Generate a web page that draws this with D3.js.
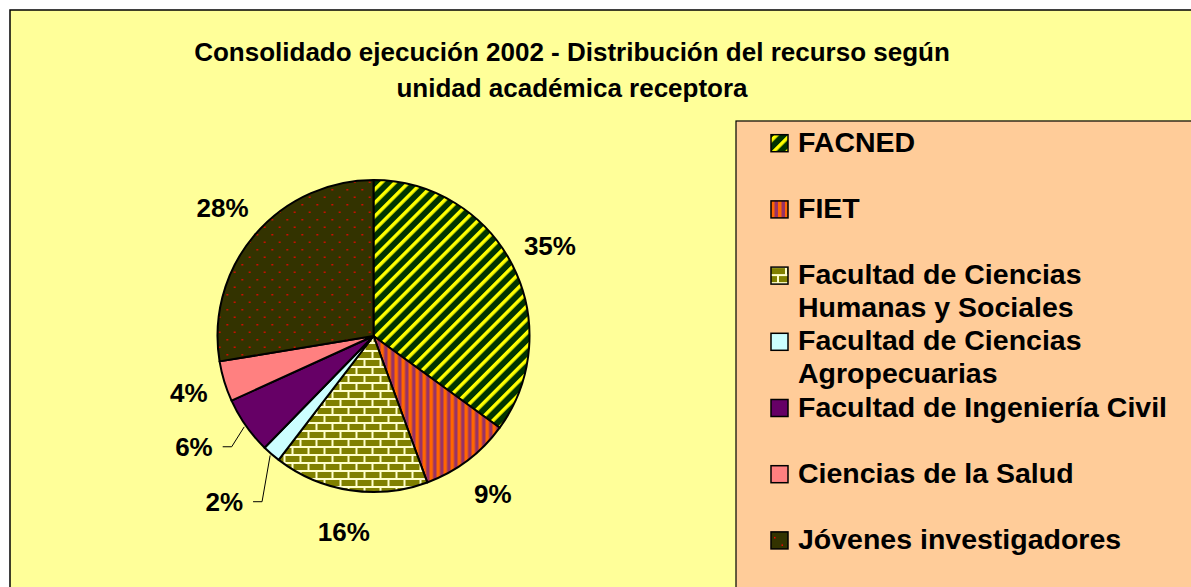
<!DOCTYPE html>
<html>
<head>
<meta charset="utf-8">
<script src="https://cdn.jsdelivr.net/npm/d3@7"></script>
<style>
  html, body { margin: 0; padding: 0; background: #fff; }
  svg { display: block; font-family: "Liberation Sans", Arial, sans-serif; font-weight: bold; }
</style>
</head>
<body>
<svg id="chart" width="1191" height="587"></svg>
<script>
// data
var categories = ["FACNED", "FIET", "Facultad de Ciencias Humanas y Sociales", "Facultad de Ciencias Agropecuarias",
  "Facultad de Ingeniería Civil", "Ciencias de la Salud", "Jóvenes investigadores"];
var legendLines = [["FACNED"], ["FIET"], ["Facultad de Ciencias", "Humanas y Sociales"],
  ["Facultad de Ciencias", "Agropecuarias"], ["Facultad de Ingeniería Civil"], ["Ciencias de la Salud"], ["Jóvenes investigadores"]];
var values = [35.0, 9.4, 16.0, 1.9, 5.9, 4.2, 27.6];
var titleLines = ["Consolidado ejecución 2002 - Distribución del recurso según", "unidad académica receptora"];

var W = 1191, H = 587;
var cx = 373.5, cy = 336, radius = 156;
var svg = d3.select("#chart");

// patterns
var defs = svg.append("defs");
var p0 = defs.append("pattern").attr("id", "pat0").attr("patternUnits", "userSpaceOnUse")
  .attr("width", 9.5).attr("height", 9.5).attr("patternTransform", "rotate(45)");
p0.append("rect").attr("width", 9.5).attr("height", 9.5).attr("fill", "#003300");
p0.append("rect").attr("width", 3.5).attr("height", 9.5).attr("fill", "#ffff00");

var p1 = defs.append("pattern").attr("id", "pat1").attr("patternUnits", "userSpaceOnUse")
  .attr("width", 7).attr("height", 7);
p1.append("rect").attr("width", 7).attr("height", 7).attr("fill", "#993366");
p1.append("rect").attr("width", 3.5).attr("height", 7).attr("fill", "#ff6600");

var p2 = defs.append("pattern").attr("id", "pat2").attr("patternUnits", "userSpaceOnUse")
  .attr("width", 16).attr("height", 16);
p2.append("rect").attr("width", 16).attr("height", 16).attr("fill", "#ffffcc");
p2.append("rect").attr("x", 0).attr("y", 0).attr("width", 14).attr("height", 6).attr("fill", "#808000");
p2.append("rect").attr("x", -8).attr("y", 8).attr("width", 14).attr("height", 6).attr("fill", "#808000");
p2.append("rect").attr("x", 8).attr("y", 8).attr("width", 14).attr("height", 6).attr("fill", "#808000");

var p6 = defs.append("pattern").attr("id", "pat6").attr("patternUnits", "userSpaceOnUse")
  .attr("width", 15).attr("height", 15);
p6.append("rect").attr("width", 15).attr("height", 15).attr("fill", "#333300");
p6.append("rect").attr("x", 3).attr("y", 3).attr("width", 1.5).attr("height", 1.5).attr("fill", "#ff0000");
p6.append("rect").attr("x", 10.5).attr("y", 10.5).attr("width", 1.5).attr("height", 1.5).attr("fill", "#ff0000");

var fills = ["url(#pat0)", "url(#pat1)", "url(#pat2)", "#ccffff", "#660066", "#ff8080", "url(#pat6)"];
var color = d3.scaleOrdinal().domain(categories).range(fills);

// chart area
svg.append("rect").attr("x", 10).attr("y", 10).attr("width", W).attr("height", H)
  .attr("fill", "#ffff99").attr("stroke", "#000").attr("stroke-width", 1.5);

svg.selectAll("text.title").data(titleLines).enter().append("text")
  .attr("class", "title")
  .attr("x", 572).attr("y", function (d, i) { return 61 + i * 36; })
  .attr("text-anchor", "middle").attr("font-size", 26).attr("fill", "#000")
  .text(function (d) { return d; });

// pie
var pie = d3.pie().sort(null).value(function (d) { return d.v; });
var arcs = pie(categories.map(function (c, i) { return { c: c, v: values[i] }; }));
var arc = d3.arc().innerRadius(0).outerRadius(radius);
var g = svg.append("g").attr("transform", "translate(" + cx + "," + cy + ")");
g.selectAll("path").data(arcs).enter().append("path")
  .attr("d", arc)
  .attr("fill", function (d) { return color(d.data.c); })
  .attr("stroke", "#000").attr("stroke-width", 2).attr("stroke-linejoin", "round");

// labels: placed along slice mid angle, small crowded ones pushed out with leader lines
var labelFont = 26;
var nudge = { "Facultad de Ciencias Agropecuarias": { r: 223, da: 0.02, leader: true },
  "Facultad de Ingeniería Civil": { r: 211, da: 0.06, leader: true },
  "Ciencias de la Salud": { r: 193, da: 0 } };
function polar(a, r) { return [Math.sin(a) * r, -Math.cos(a) * r]; }
arcs.forEach(function (d) {
  var mid = (d.startAngle + d.endAngle) / 2;
  var n = nudge[d.data.c] || { r: 198, da: 0 };
  var pos = polar(mid + n.da, n.r);
  var txt = Math.round(d.data.v) + "%";
  var t = g.append("text").attr("x", pos[0]).attr("y", pos[1] + labelFont * 0.36)
    .attr("text-anchor", "middle").attr("font-size", labelFont).attr("fill", "#000").text(txt);
  if (n.leader) {
    var half = t.node().getComputedTextLength() / 2;
    var start = polar(mid, radius + 2);
    var endX = pos[0] + half + 10;
    var bendX = endX + 9;
    g.append("polyline")
      .attr("points", [start, [bendX, pos[1]], [endX, pos[1]]].map(function (p) { return p.join(","); }).join(" "))
      .attr("fill", "none").attr("stroke", "#000").attr("stroke-width", 1);
  }
});

// legend
var legX = 736, legY = 121;
svg.append("rect").attr("x", legX).attr("y", legY).attr("width", W).attr("height", H)
  .attr("fill", "#ffcc99").attr("stroke", "#000").attr("stroke-width", 1.2);
var items = svg.selectAll("g.leg").data(categories).enter().append("g")
  .attr("class", "leg")
  .attr("transform", function (d, i) { return "translate(" + (legX + 35) + "," + (151.7 + i * 66.2) + ")"; });
items.append("rect").attr("x", 0).attr("y", -17).attr("width", 17).attr("height", 17)
  .attr("fill", function (d) { return color(d); }).attr("stroke", "#000").attr("stroke-width", 1.5);
items.each(function (d, i) {
  d3.select(this).selectAll("text").data(legendLines[i]).enter().append("text")
    .attr("x", 27).attr("y", function (l, j) { return j * 32.5; })
    .attr("font-size", 28.5).attr("fill", "#000")
    .text(function (l) { return l; });
});
</script>
</body>
</html>
